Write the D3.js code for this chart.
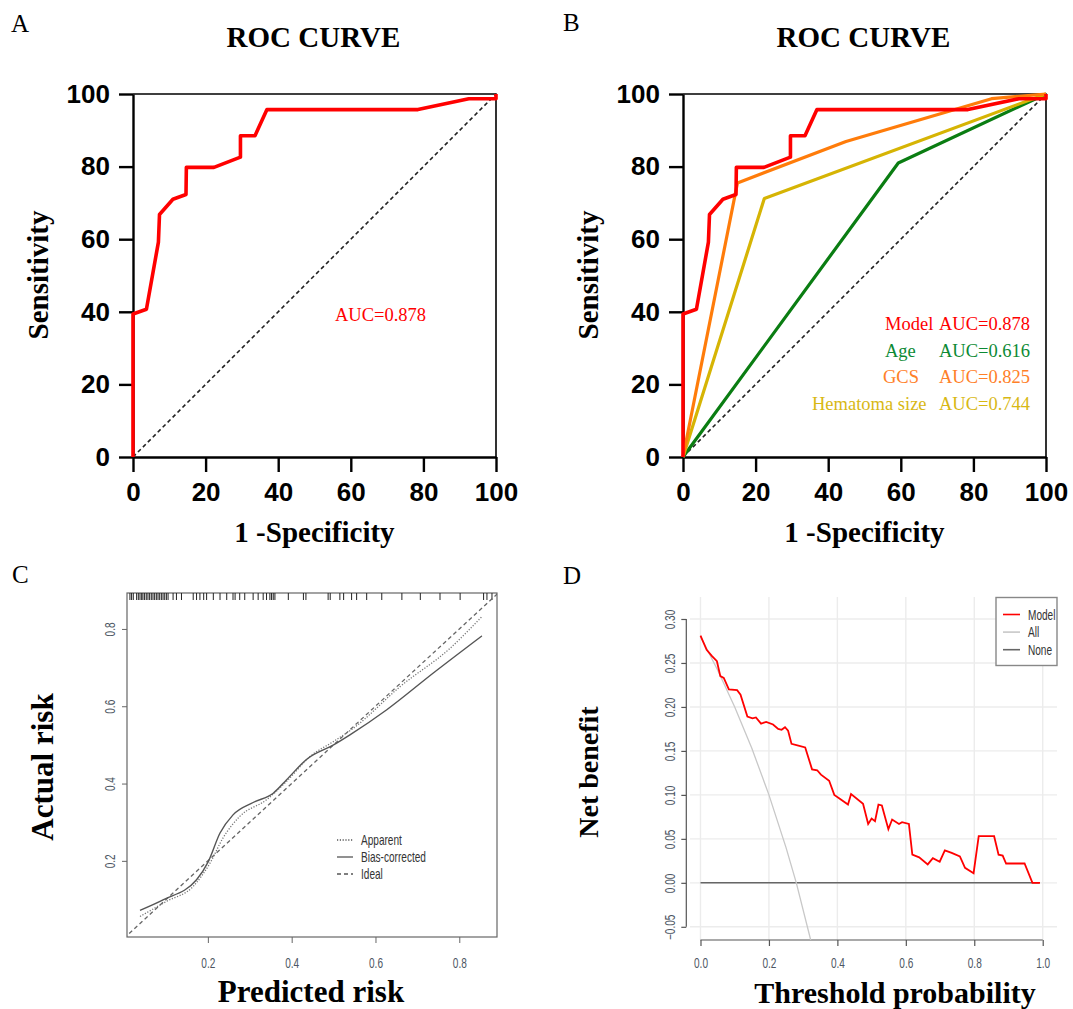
<!DOCTYPE html>
<html>
<head>
<meta charset="utf-8">
<script src="https://cdn.jsdelivr.net/npm/d3@7"></script>
<style>
  body { margin: 0; background: #fff; }
  svg { display: block; }
</style>
</head>
<body>
<script>
// ROC data (1 - specificity %, sensitivity %)
var rocTicks = [0, 20, 40, 60, 80, 100];
var modelFpr = [0, 0, 3.7, 7.0, 7.3, 11.0, 14.6, 14.7, 22.3, 29.6, 29.6, 33.6, 36.9, 78.5, 92.5, 100, 100];
var modelTpr = [0, 39.4, 40.7, 59.2, 66.8, 71.0, 72.3, 79.8, 79.8, 82.6, 88.5, 88.5, 95.7, 95.7, 98.7, 98.7, 100];
var ageFpr = [0, 59.3, 100];
var ageTpr = [0, 81.0, 100];
var gcsFpr = [0, 15.0, 44.9, 85.0, 100];
var gcsTpr = [0, 75.5, 86.9, 98.7, 100];
var hemFpr = [0, 22.4, 100];
var hemTpr = [0, 71.2, 100];
var legendNames = ["Model", "Age", "GCS", "Hematoma size"];
var legendAuc = ["AUC=0.878", "AUC=0.616", "AUC=0.825", "AUC=0.744"];

// calibration data (C)
var calTicks = [0.2, 0.4, 0.6, 0.8];
var rugValues = [0.014, 0.018, 0.022, 0.030, 0.034, 0.038, 0.042, 0.045, 0.049, 0.053, 0.057, 0.061, 0.065,
  0.069, 0.073, 0.077, 0.081, 0.085, 0.089, 0.093, 0.097, 0.101, 0.105, 0.117, 0.125, 0.137, 0.165, 0.173,
  0.181, 0.190, 0.197, 0.213, 0.229, 0.245, 0.260, 0.265, 0.276, 0.288, 0.308, 0.320, 0.332, 0.340, 0.348,
  0.352, 0.356, 0.360, 0.392, 0.428, 0.434, 0.487, 0.492, 0.515, 0.524, 0.543, 0.555, 0.579, 0.615, 0.663,
  0.707, 0.754, 0.802, 0.858, 0.866, 0.878];
var apparentX = [0.038, 0.101, 0.165, 0.205, 0.236, 0.276, 0.340, 0.388, 0.444, 0.500, 0.547, 0.659, 0.778, 0.854];
var apparentY = [0.056, 0.095, 0.134, 0.194, 0.259, 0.315, 0.358, 0.406, 0.470, 0.509, 0.543, 0.651, 0.750, 0.832];
var biasX = [0.038, 0.093, 0.173, 0.201, 0.229, 0.260, 0.308, 0.356, 0.388, 0.436, 0.500, 0.539, 0.627, 0.738, 0.854];
var biasY = [0.072, 0.099, 0.151, 0.198, 0.272, 0.319, 0.351, 0.375, 0.410, 0.463, 0.500, 0.526, 0.591, 0.686, 0.782];
var idealX = [0, 1];
var idealY = [0, 1];
var calLegend = ["Apparent", "Bias-corrected", "Ideal"];

// decision curve data (D)
var dcaXTicks = [0, 0.2, 0.4, 0.6, 0.8, 1.0];
var dcaYTicks = [-0.05, 0, 0.05, 0.10, 0.15, 0.20, 0.25, 0.30];
var dcaModelX = [0.0, 0.018, 0.033, 0.048, 0.058, 0.068, 0.083, 0.107, 0.117, 0.137, 0.152, 0.162, 0.177, 0.192,
  0.212, 0.227, 0.237, 0.247, 0.256, 0.266, 0.286, 0.306, 0.326, 0.341, 0.352, 0.376, 0.391, 0.406, 0.431,
  0.440, 0.475, 0.490, 0.500, 0.510, 0.520, 0.530, 0.549, 0.560, 0.580, 0.589, 0.609, 0.619, 0.639, 0.664,
  0.679, 0.699, 0.714, 0.734, 0.758, 0.773, 0.798, 0.813, 0.858, 0.871, 0.883, 0.893, 0.947, 0.970, 0.992];
var dcaModelY = [0.281, 0.265, 0.258, 0.252, 0.235, 0.233, 0.220, 0.219, 0.214, 0.189, 0.187, 0.188, 0.181, 0.183,
  0.180, 0.175, 0.174, 0.177, 0.173, 0.158, 0.156, 0.154, 0.129, 0.128, 0.123, 0.116, 0.100, 0.096, 0.089,
  0.101, 0.090, 0.067, 0.073, 0.070, 0.089, 0.088, 0.061, 0.072, 0.067, 0.069, 0.067, 0.032, 0.029, 0.021,
  0.028, 0.024, 0.037, 0.034, 0.030, 0.017, 0.011, 0.053, 0.053, 0.032, 0.031, 0.022, 0.022, 0.0, 0.0];
var dcaAllX = [0.0, 0.05, 0.10, 0.15, 0.20, 0.25, 0.28, 0.322];
var dcaAllY = [0.280, 0.242, 0.200, 0.153, 0.100, 0.040, 0.0, -0.065];
var dcaNoneX = [0.0, 0.99];
var dcaNoneY = [0.0, 0.0];
var dcaLegend = ["Model", "All", "None"];

var serif = "'Liberation Serif', 'Times New Roman', serif";
var sans = "'Liberation Sans', Arial, sans-serif";
var narrowScale = "scale(0.72,1)";   // R plots used a condensed sans font

var svg = d3.select("body").append("svg")
  .attr("width", 1073)
  .attr("height", 1009);

function zip(xs, ys) {
  return xs.map(function (v, i) { return [v, ys[i]]; });
}

function panelLetter(t, x, y) {
  svg.append("text").attr("x", x).attr("y", y)
    .style("font-family", serif).style("font-size", "25px")
    .text(t);
}

// ROC panels (A, B)
// =================
function rocPanel(left, right, series) {
  var x = d3.scaleLinear().domain([0, 100]).range([left, right]);
  var y = d3.scaleLinear().domain([0, 100]).range([457, 94]);
  var g = svg.append("g");

  g.append("path")
    .attr("d", "M" + left + "," + y(100) + "H" + right + "V" + y(0))
    .attr("fill", "none").attr("stroke", "#000").attr("stroke-width", 1.6);

  var yAxis = g.append("g").attr("transform", "translate(" + left + ",0)")
    .call(d3.axisLeft(y).tickValues(rocTicks).tickSize(14).tickSizeOuter(0).tickPadding(9));
  var xAxis = g.append("g").attr("transform", "translate(0," + y(0) + ")")
    .call(d3.axisBottom(x).tickValues(rocTicks).tickSize(15).tickSizeOuter(0).tickPadding(11));
  [xAxis, yAxis].forEach(function (a) {
    a.selectAll("path, line").attr("stroke", "#000").attr("stroke-width", 2.4);
    a.selectAll("text").attr("fill", "#000")
      .style("font-family", sans).style("font-size", "26px").style("font-weight", "bold");
  });

  var line = d3.line().x(d => x(d[0])).y(d => y(d[1]));

  g.append("path").datum([[0, 0], [100, 100]])
    .attr("d", line).attr("fill", "none")
    .attr("stroke", "#222").attr("stroke-width", 1.6).attr("stroke-dasharray", "4,3");

  series.forEach(function (s) {
    g.append("path").datum(zip(s.fpr, s.tpr))
      .attr("d", line).attr("fill", "none")
      .attr("stroke", s.color).attr("stroke-width", s.width)
      .attr("stroke-linejoin", "round");
  });

  var cx = (left + right) / 2;
  g.append("text").attr("x", cx - 1).attr("y", 47)
    .attr("text-anchor", "middle")
    .style("font-family", serif).style("font-size", "29px").style("font-weight", "bold")
    .text("ROC CURVE");
  g.append("text").attr("x", cx).attr("y", 542)
    .attr("text-anchor", "middle")
    .style("font-family", serif).style("font-size", "29px").style("font-weight", "bold")
    .text("1 -Specificity");
  g.append("text")
    .attr("transform", "translate(" + (left - 85) + ",275) rotate(-90)")
    .attr("text-anchor", "middle")
    .style("font-family", serif).style("font-size", "29px").style("font-weight", "bold")
    .text("Sensitivity");
  return g;
}

var red = "#ff0000";
var gA = rocPanel(133, 496, [{ fpr: modelFpr, tpr: modelTpr, color: red, width: 3.6 }]);
gA.append("text").attr("x", 335).attr("y", 321)
  .attr("fill", red)
  .style("font-family", serif).style("font-size", "18.5px")
  .text(legendAuc[0]);

var gB = rocPanel(683, 1046, [
  { fpr: ageFpr, tpr: ageTpr, color: "#0a7d12", width: 3.2 },
  { fpr: hemFpr, tpr: hemTpr, color: "#d6b404", width: 3.2 },
  { fpr: gcsFpr, tpr: gcsTpr, color: "#ff7c0a", width: 3.2 },
  { fpr: modelFpr, tpr: modelTpr, color: red, width: 3.6 }
]);

var legendTextColors = [red, "#0c8a34", "#ff8028", "#d8b814"];
var legendNameX = [885, 885, 883, 812];
legendNames.forEach(function (n, i) {
  var by = 330 + i * 26.7;
  gB.append("text").attr("x", legendNameX[i]).attr("y", by)
    .attr("fill", legendTextColors[i])
    .style("font-family", serif).style("font-size", "18.5px").text(n);
  gB.append("text").attr("x", 939).attr("y", by)
    .attr("fill", legendTextColors[i])
    .style("font-family", serif).style("font-size", "18.5px").text(legendAuc[i]);
});

panelLetter("A", 11, 32);
panelLetter("B", 563, 31);

// Calibration panel (C)
// =====================
(function () {
  var x = d3.scaleLinear().domain([0.007, 0.89]).range([127, 497]);
  var y = d3.scaleLinear().domain([0.003, 0.893]).range([937, 593]);
  var g = svg.append("g");

  g.append("defs").append("clipPath").attr("id", "clipC")
    .append("rect").attr("x", 127).attr("y", 593).attr("width", 370).attr("height", 344);

  g.append("rect").attr("x", 127).attr("y", 593).attr("width", 370).attr("height", 344)
    .attr("fill", "none").attr("stroke", "#666").attr("stroke-width", 1.2);

  var xAxis = g.append("g").attr("transform", "translate(0,937)")
    .call(d3.axisBottom(x).tickValues(calTicks).tickSize(6).tickSizeOuter(0).tickPadding(15));
  var yAxis = g.append("g").attr("transform", "translate(127,0)")
    .call(d3.axisLeft(y).tickValues(calTicks).tickSize(5).tickSizeOuter(0));
  [xAxis, yAxis].forEach(function (a) {
    a.select(".domain").remove();
    a.selectAll("line").attr("stroke", "#666");
    a.selectAll("text").attr("fill", "#4d5663")
      .style("font-family", sans).style("font-size", "14px");
  });
  xAxis.selectAll("text").attr("transform", narrowScale);
  yAxis.selectAll("text")
    .attr("transform", "rotate(-90) " + narrowScale)
    .attr("x", 0).attr("y", -12).attr("dy", 0)
    .attr("text-anchor", "middle");

  g.selectAll(".rug").data(rugValues).enter().append("line")
    .attr("x1", d => x(d)).attr("x2", d => x(d))
    .attr("y1", 593).attr("y2", 600)
    .attr("stroke", "#222").attr("stroke-width", 1);

  var line = d3.line().x(d => x(d[0])).y(d => y(d[1])).curve(d3.curveMonotoneX);
  var plot = g.append("g").attr("clip-path", "url(#clipC)");
  plot.append("path").datum(zip(idealX, idealY)).attr("d", line)
    .attr("fill", "none").attr("stroke", "#666").attr("stroke-width", 1.3).attr("stroke-dasharray", "4,3");
  plot.append("path").datum(zip(apparentX, apparentY)).attr("d", line)
    .attr("fill", "none").attr("stroke", "#777").attr("stroke-width", 1.3).attr("stroke-dasharray", "1.2,1.6");
  plot.append("path").datum(zip(biasX, biasY)).attr("d", line)
    .attr("fill", "none").attr("stroke", "#555").attr("stroke-width", 1.4);

  var dashes = ["1.2,1.6", null, "4,3"];
  calLegend.forEach(function (t, i) {
    var ly = 840 + i * 17;
    g.append("line").attr("x1", 337).attr("x2", 353).attr("y1", ly).attr("y2", ly)
      .attr("stroke", "#555").attr("stroke-width", 1.3).attr("stroke-dasharray", dashes[i]);
    g.append("text").attr("transform", "translate(361," + (ly + 5) + ") " + narrowScale)
      .attr("fill", "#333")
      .style("font-family", sans).style("font-size", "14px").text(t);
  });

  g.append("text").attr("x", 311).attr("y", 1002)
    .attr("text-anchor", "middle")
    .style("font-family", serif).style("font-size", "31px").style("font-weight", "bold")
    .text("Predicted risk");
  g.append("text").attr("transform", "translate(53,767) rotate(-90)")
    .attr("text-anchor", "middle")
    .style("font-family", serif).style("font-size", "31px").style("font-weight", "bold")
    .text("Actual risk");
})();

panelLetter("C", 12, 583);

// Decision curve panel (D)
// ========================
(function () {
  var x = d3.scaleLinear().domain([-0.04, 1.04]).range([686.8, 1056.4]);
  var y = d3.scaleLinear().domain([-0.065, 0.325]).range([940, 597]);
  var g = svg.append("g");

  g.append("defs").append("clipPath").attr("id", "clipD")
    .append("rect").attr("x", 686).attr("y", 597).attr("width", 371).attr("height", 343);

  // grid
  g.selectAll(".hgrid").data(dcaYTicks).enter().append("line")
    .attr("x1", 690).attr("x2", 1057).attr("y1", d => y(d)).attr("y2", d => y(d))
    .attr("stroke", "#ececec").attr("stroke-width", 1.4);
  g.selectAll(".vgrid").data(dcaXTicks).enter().append("line")
    .attr("x1", d => x(d)).attr("x2", d => x(d)).attr("y1", 597).attr("y2", 940)
    .attr("stroke", "#ececec").attr("stroke-width", 1.4);

  var xAxis = g.append("g").attr("transform", "translate(0,940)")
    .call(d3.axisBottom(x).tickValues(dcaXTicks).tickFormat(d3.format(".1f"))
      .tickSize(6).tickSizeOuter(0).tickPadding(12));
  var yAxis = g.append("g").attr("transform", "translate(686.3,0)")
    .call(d3.axisLeft(y).tickValues(dcaYTicks).tickFormat(d3.format(".2f"))
      .tickSize(5).tickSizeOuter(0));
  [xAxis, yAxis].forEach(function (a) {
    a.select(".domain").remove();
    a.selectAll("line").attr("stroke", "#555").attr("stroke-width", 1.2);
    a.selectAll("text").attr("fill", "#4d5663")
      .style("font-family", sans).style("font-size", "14px");
  });
  xAxis.selectAll("text").attr("transform", narrowScale);
  yAxis.selectAll("text")
    .attr("transform", "rotate(-90) " + narrowScale)
    .attr("x", 0).attr("y", -11).attr("dy", 0)
    .attr("text-anchor", "middle");
  g.append("line").attr("x1", x(0)).attr("x2", x(1)).attr("y1", 940).attr("y2", 940)
    .attr("stroke", "#555").attr("stroke-width", 1.2);
  g.append("line").attr("x1", 686.3).attr("x2", 686.3).attr("y1", y(0.30)).attr("y2", y(-0.05))
    .attr("stroke", "#555").attr("stroke-width", 1.2);

  var line = d3.line().x(d => x(d[0])).y(d => y(d[1]));
  var plot = g.append("g").attr("clip-path", "url(#clipD)");
  plot.append("path").datum(zip(dcaNoneX, dcaNoneY)).attr("d", line)
    .attr("fill", "none").attr("stroke", "#666").attr("stroke-width", 1.5);
  plot.append("path").datum(zip(dcaAllX, dcaAllY)).attr("d", line)
    .attr("fill", "none").attr("stroke", "#c8c8c8").attr("stroke-width", 1.3);
  plot.append("path").datum(zip(dcaModelX, dcaModelY)).attr("d", line)
    .attr("fill", "none").attr("stroke", red).attr("stroke-width", 1.8);

  // legend
  g.append("rect").attr("x", 996).attr("y", 597.5).attr("width", 61).attr("height", 68)
    .attr("fill", "#fff").attr("stroke", "#888").attr("stroke-width", 1.4);
  var cols = [red, "#c8c8c8", "#666"];
  dcaLegend.forEach(function (t, i) {
    var ly = 614.5 + i * 17.6;
    g.append("line").attr("x1", 1003).attr("x2", 1020).attr("y1", ly).attr("y2", ly)
      .attr("stroke", cols[i]).attr("stroke-width", 1.6);
    g.append("text").attr("transform", "translate(1028," + (ly + 5) + ") " + narrowScale)
      .attr("fill", "#333")
      .style("font-family", sans).style("font-size", "14px").text(t);
  });

  g.append("text").attr("x", 895).attr("y", 1003)
    .attr("text-anchor", "middle")
    .style("font-family", serif).style("font-size", "30px").style("font-weight", "bold")
    .text("Threshold probability");
  g.append("text").attr("transform", "translate(598,772) rotate(-90)")
    .attr("text-anchor", "middle")
    .style("font-family", serif).style("font-size", "28px").style("font-weight", "bold")
    .text("Net benefit");
})();

panelLetter("D", 563, 584);
</script>
</body>
</html>
